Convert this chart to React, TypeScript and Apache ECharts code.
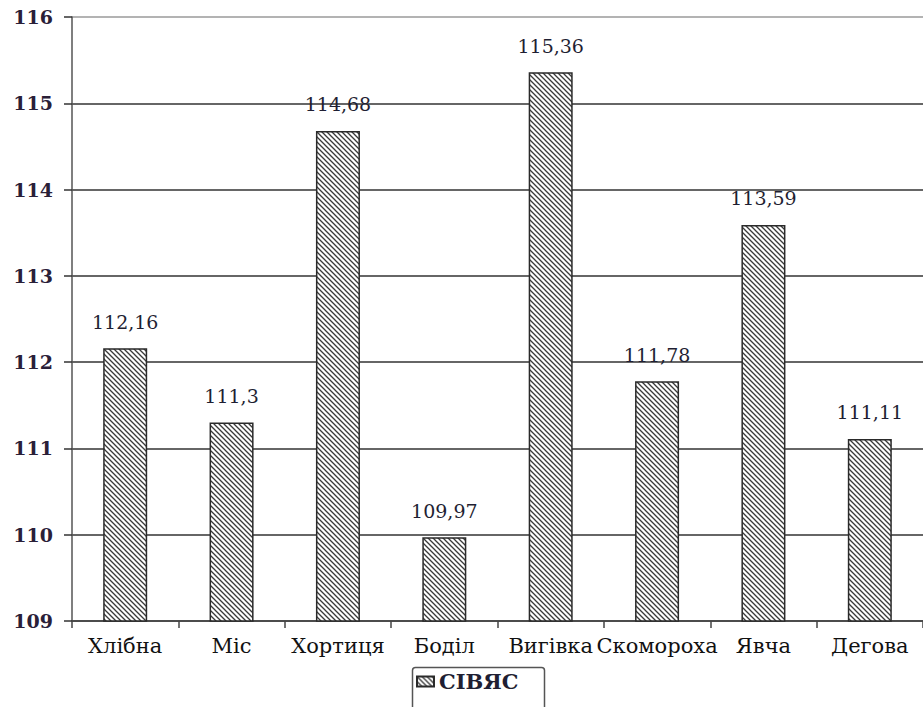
import React, { useEffect, useRef } from 'react';
import * as echarts from 'echarts';

const categories = ['Хлібна', 'Міс', 'Хортиця', 'Боділ', 'Вигівка', 'Скомороха', 'Явча', 'Дегова'];
const values = [112.16, 111.3, 114.68, 109.97, 115.36, 111.78, 113.59, 111.11];
const seriesName = 'СІВЯС';
const yMin = 109;
const yMax = 116;
const yStep = 1;

const FONT = 'DejaVu Serif';

function makeHatch(): string {
  const s = 5;
  const c = document.createElement('canvas');
  c.width = s;
  c.height = s;
  const ctx = c.getContext('2d')!;
  ctx.fillStyle = '#ffffff';
  ctx.fillRect(0, 0, s, s);
  ctx.strokeStyle = '#3a3a3a';
  ctx.lineWidth = 1.3;
  ctx.beginPath();
  ctx.moveTo(-1, -1);
  ctx.lineTo(s + 1, s + 1);
  ctx.moveTo(-1, s - 1);
  ctx.lineTo(1, s + 1);
  ctx.moveTo(s - 1, -1);
  ctx.lineTo(s + 1, 1);
  ctx.stroke();
  return c.toDataURL();
}

export default function App() {
  const ref = useRef<HTMLDivElement>(null);

  useEffect(() => {
    if (!ref.current) return;
    const chart = echarts.init(ref.current, null, { renderer: 'svg' });
    const hatch = { image: makeHatch(), repeat: 'repeat', imageWidth: 5, imageHeight: 5 };
    const gridColors = ['#333', '#333', '#333', '#333', '#333', '#333', '#333', '#9a9a9a'];

    chart.setOption({
      animation: false,
      backgroundColor: '#ffffff',
      grid: { left: 72, right: -11, top: 17, bottom: 86, containLabel: false },
      graphic: [
        {
          type: 'rect',
          left: 410,
          top: 665,
          shape: { width: 132, height: 60, r: 3 },
          style: { fill: 'none', stroke: '#555', lineWidth: 1.5 },
          silent: true,
        },
      ],
      legend: {
        data: [seriesName],
        left: 410,
        top: 666,
        orient: 'horizontal',
        icon: 'rect',
        itemWidth: 17,
        itemHeight: 10,
        itemGap: 8,
        padding: [5, 18, 5, 6],
        textStyle: { fontFamily: FONT, fontSize: 21, fontWeight: 'bold', color: '#1f1f33' },
      },
      xAxis: {
        type: 'category',
        data: categories,
        axisLine: { show: true, lineStyle: { color: '#444', width: 1.5 } },
        axisTick: { show: true, length: 7, alignWithLabel: false, lineStyle: { color: '#444', width: 1.5 } },
        axisLabel: {
          interval: 0,
          hideOverlap: false,
          margin: 14,
          fontFamily: FONT,
          fontSize: 21,
          color: '#111',
        },
        splitLine: { show: false },
      },
      yAxis: {
        type: 'value',
        min: yMin,
        max: yMax,
        interval: yStep,
        axisLine: { show: true, lineStyle: { color: '#555', width: 1.5 } },
        axisTick: { show: true, length: 8, lineStyle: { color: '#333', width: 1.5 } },
        axisLabel: {
          margin: 19,
          fontFamily: FONT,
          fontSize: 19,
          fontWeight: 'bold',
          color: '#2a2038',
        },
        splitLine: { show: true, lineStyle: { color: gridColors, width: 1.5 } },
      },
      series: [
        {
          name: seriesName,
          type: 'bar',
          data: values,
          barWidth: 44,
          itemStyle: { color: hatch as any, borderColor: '#2a2a2a', borderWidth: 1.5 },
          label: {
            show: true,
            position: 'top',
            distance: 17,
            fontFamily: FONT,
            fontSize: 19,
            color: '#1f1f33',
            formatter: (p: any) => String(p.value).replace('.', ','),
          },
        },
      ],
    });

    return () => chart.dispose();
  }, []);

  return (
    <div
      ref={ref}
      style={{ position: 'fixed', left: 0, top: 0, width: 923, height: 707, overflow: 'hidden' }}
    />
  );
}
